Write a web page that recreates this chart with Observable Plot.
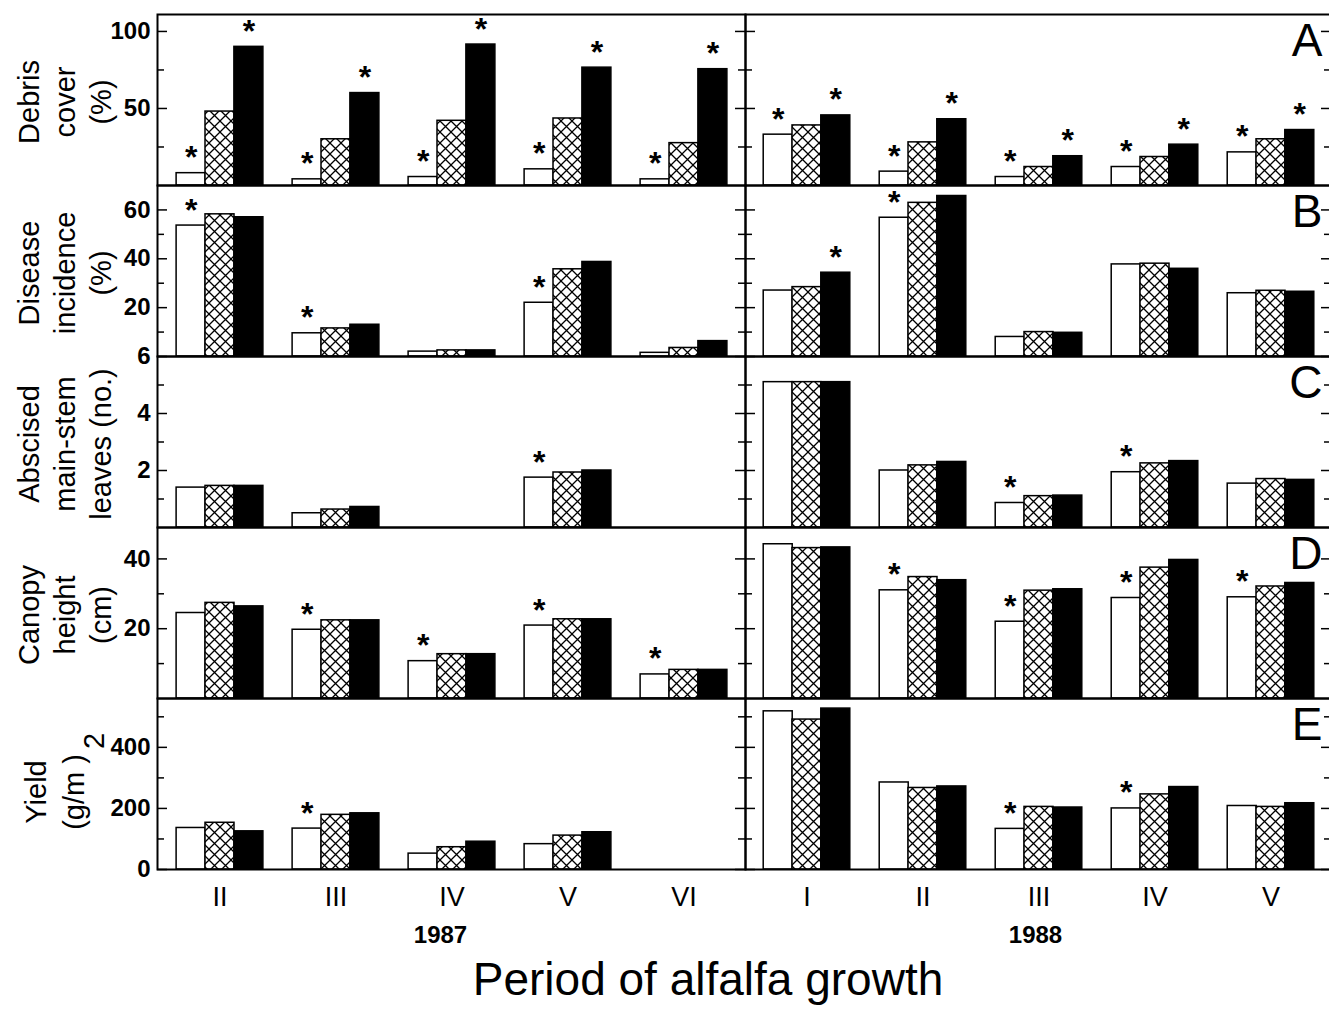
<!DOCTYPE html>
<html>
<head>
<meta charset="utf-8">
<script src="https://cdn.jsdelivr.net/npm/d3@7"></script>
<script src="https://cdn.jsdelivr.net/npm/@observablehq/plot@0.6"></script>
<style>
  html, body { margin: 0; padding: 0; background: #fff; overflow: hidden; }
  #chart { position: relative; width: 1329px; height: 1010px; overflow: hidden; font-family: "Liberation Sans", Arial, sans-serif; }
  #chart svg.panel { position: absolute; }
  #xtitle { position: absolute; left: 0; top: 956px; width: 1416px; text-align: center; font-size: 46px; line-height: 46px; color: #000; }
</style>
</head>
<body>
<svg width="0" height="0" style="position:absolute">
  <defs>
    <pattern id="xhatch" patternUnits="userSpaceOnUse" width="11" height="11">
      <rect width="11" height="11" fill="#fff"/>
      <path d="M-1,-1L12,12M12,-1L-1,12" stroke="#000" stroke-width="1.3" fill="none"/>
    </pattern>
  </defs>
</svg>
<div id="chart"></div>
<script>
// ---------- categories & labels ----------
const periods1987 = ["II", "III", "IV", "V", "VI"];
const periods1988 = ["I", "II", "III", "IV", "V"];
const treatments = ["open", "hatched", "solid"];
const yearLabels = ["1987", "1988"];
const panelLetters = ["A", "B", "C", "D", "E"];
const rowTitles = ["Debris\ncover\n(%)", "Disease\nincidence\n(%)", "Abscised\nmain-stem\nleaves (no.)", "Canopy\nheight\n(cm)", "Yield\n(g/m )"];
const xTitle = "Period of alfalfa growth";

// ---------- values: [open, hatched, solid] x periods ----------
const debris1987 = [[8, 4, 5.5, 10.5, 4], [48, 30, 42, 43.5, 27.5], [90, 60, 91.5, 76.5, 75.5]];
const debris1988 = [[33, 9, 5.5, 12, 21.5], [39, 28, 12, 18.5, 30], [45.5, 43, 19, 26.5, 36]];
const disease1987 = [[53.6, 9.5, 2, 22, 1.5], [58.2, 11.5, 2.5, 35.7, 3.5], [57, 13, 2.5, 38.7, 6.3]];
const disease1988 = [[27, 56.8, 8, 37.7, 25.9], [28.4, 62.9, 10, 38, 26.9], [34.3, 65.7, 9.7, 35.9, 26.5]];
const leaves1987 = [[1.4, 0.5, null, 1.75, null], [1.46, 0.63, null, 1.93, null], [1.46, 0.72, null, 2.0, null]];
const leaves1988 = [[5.1, 2.0, 0.86, 1.94, 1.54], [5.1, 2.18, 1.1, 2.25, 1.7], [5.1, 2.3, 1.12, 2.33, 1.67]];
const canopy1987 = [[24.5, 19.7, 10.7, 20.9, 6.9], [27.4, 22.4, 12.7, 22.7, 8.2], [26.4, 22.4, 12.7, 22.7, 8.2]];
const canopy1988 = [[44.2, 31, 22, 28.8, 29], [43.1, 34.8, 30.9, 37.5, 32.1], [43.3, 33.9, 31.3, 39.7, 33.1]];
const yield1987 = [[136, 134, 52, 83, null], [153, 179, 73, 111, null], [125, 184, 91, 122, null]];
const yield1988 = [[518, 285, 133, 200, 208], [491, 267, 205, 246, 205], [527, 272, 203, 270, 217]];

// ---------- significance asterisks (1 = marked): [open, hatched, solid] ----------
const debris1987Stars = [[1, 1, 1, 1, 1], [0, 0, 0, 0, 0], [1, 1, 1, 1, 1]];
const debris1988Stars = [[1, 1, 1, 1, 1], [0, 0, 0, 0, 0], [1, 1, 1, 1, 1]];
const disease1987Stars = [[1, 1, 0, 1, 0], [0, 0, 0, 0, 0], [0, 0, 0, 0, 0]];
const disease1988Stars = [[0, 1, 0, 0, 0], [0, 0, 0, 0, 0], [1, 0, 0, 0, 0]];
const leaves1987Stars = [[0, 0, 0, 1, 0], [0, 0, 0, 0, 0], [0, 0, 0, 0, 0]];
const leaves1988Stars = [[0, 0, 1, 1, 0], [0, 0, 0, 0, 0], [0, 0, 0, 0, 0]];
const canopy1987Stars = [[0, 1, 1, 1, 1], [0, 0, 0, 0, 0], [0, 0, 0, 0, 0]];
const canopy1988Stars = [[0, 1, 1, 1, 1], [0, 0, 0, 0, 0], [0, 0, 0, 0, 0]];
const yield1987Stars = [[0, 1, 0, 0, 0], [0, 0, 0, 0, 0], [0, 0, 0, 0, 0]];
const yield1988Stars = [[0, 0, 1, 1, 0], [0, 0, 0, 0, 0], [0, 0, 0, 0, 0]];

// ---------- tick values ----------
const majorTicks = [[50, 100], [20, 40, 60], [2, 4, 6], [20, 40], [0, 200, 400]];
const minorTicks = [[25, 75], [10, 30, 50], [1, 3, 5], [10, 30], [100, 300, 500]];
const yDomains = [[0, 111], [0, 70], [0, 6], [0, 49], [0, 560]];

// tables assembled from the named arrays
const rowData = [[debris1987, debris1988], [disease1987, disease1988], [leaves1987, leaves1988], [canopy1987, canopy1988], [yield1987, yield1988]];
const rowStars = [[debris1987Stars, debris1988Stars], [disease1987Stars, disease1988Stars], [leaves1987Stars, leaves1988Stars], [canopy1987Stars, canopy1988Stars], [yield1987Stars, yield1988Stars]];

// ---------- layout ----------
const FONT = "'Liberation Sans', Arial, Helvetica, sans-serif";
const rowTops = [14, 185, 356, 527, 698];
const rowH = 171;
const PAD = 3;
const PI = 0.753, PO = 0.39;
const fills = ["white", "url(#xhatch)", "black"];
const chart = document.getElementById("chart");

function panel(row, side) {
  const isLeft = side === 0;
  const isBottom = row === 4;
  const frameW = isLeft ? 588 : 586;
  const mL = isLeft ? 157 : PAD;
  const mB = isBottom ? 95 : PAD;
  const periods = isLeft ? periods1987 : periods1988;
  const values = rowData[row][side];
  const stars = rowStars[row][side];
  const step = frameW / (periods.length - PI + 2 * PO);
  const bw = step * (1 - PI);

  const marks = [];
  treatments.forEach((t, j) => {
    const data = periods.map((p, i) => ({period: p, treatment: t, value: values[j][i], star: stars[j][i]}))
      .filter(d => d.value != null);
    marks.push(Plot.barY(data, {x: "period", y: "value", dx: (j - 1) * bw, fill: fills[j], stroke: "black", strokeWidth: 1.5}));
    marks.push(Plot.text(data.filter(d => d.star), {
      x: "period", y: "value", dx: (j - 1) * bw, dy: -5, text: () => "*",
      lineAnchor: "bottom", fontSize: 32, fontWeight: "bold"
    }));
  });

  // inward ticks on both sides of the frame
  const tick = (vals, len, leftSide) => Plot.tickY(vals, {
    y: d => d, stroke: "black", strokeWidth: 1.5,
    ...(leftSide ? {insetRight: frameW - len} : {insetLeft: frameW - len})
  });
  marks.push(tick(majorTicks[row], 10, true), tick(majorTicks[row], 10, false));
  marks.push(tick(minorTicks[row], 7, true), tick(minorTicks[row], 7, false));
  marks.push(Plot.frame({stroke: "black", strokeWidth: 2}));

  if (isLeft) {
    marks.push(Plot.axisY(majorTicks[row], {anchor: "left", tickSize: 0, tickPadding: 7, fontSize: 24, fontWeight: "bold", label: null}));
    if (row < 4) {
      marks.push(Plot.text([rowTitles[row]], {
        frameAnchor: "left", dx: -94, dy: 2, rotate: -90, text: d => d,
        fontSize: 29, lineHeight: 1.24, textAnchor: "middle", lineAnchor: "middle"
      }));
    } else {
      marks.push(Plot.text([rowTitles[row]], {
        frameAnchor: "left", dx: -105, dy: 8, rotate: -90, text: d => d,
        fontSize: 29, lineHeight: 1.31, textAnchor: "middle", lineAnchor: "middle"
      }));
      marks.push(Plot.text(["2"], {
        frameAnchor: "left", dx: -63, dy: -43, rotate: -90, text: d => d,
        fontSize: 29, textAnchor: "middle", lineAnchor: "middle"
      }));
    }
  } else {
    marks.push(Plot.text([panelLetters[row]], {
      frameAnchor: "top-right", dx: -9, dy: 27, text: d => d,
      fontSize: 46, textAnchor: "end", lineAnchor: "middle"
    }));
  }

  if (isBottom) {
    marks.push(Plot.axisX({anchor: "bottom", tickSize: 0, tickPadding: 17, fontSize: 27, label: null}));
    marks.push(Plot.text([yearLabels[side]], {
      frameAnchor: "bottom", dx: isLeft ? -11 : -3, dy: 66, text: d => d,
      fontSize: 24, fontWeight: "bold", lineAnchor: "middle"
    }));
  }

  const svg = Plot.plot({
    width: mL + frameW + PAD,
    height: PAD + rowH + mB,
    marginLeft: mL, marginRight: PAD, marginTop: PAD, marginBottom: mB,
    style: {fontFamily: FONT, background: "none", overflow: "visible", color: "black"},
    x: {type: "band", domain: periods, paddingInner: PI, paddingOuter: PO, align: 0.5, ...(isBottom ? {} : {axis: null})},
    y: {domain: yDomains[row], ...(isLeft ? {} : {axis: null})},
    marks
  });
  svg.classList.add("panel");
  svg.style.left = (isLeft ? 0 : 745 - PAD) + "px";
  svg.style.top = (rowTops[row] - PAD) + "px";
  svg.style.maxWidth = "none";
  chart.appendChild(svg);
}

for (let r = 0; r < 5; r++) { panel(r, 0); panel(r, 1); }

const title = document.createElement("div");
title.id = "xtitle";
title.textContent = xTitle;
chart.appendChild(title);
</script>
</body>
</html>
